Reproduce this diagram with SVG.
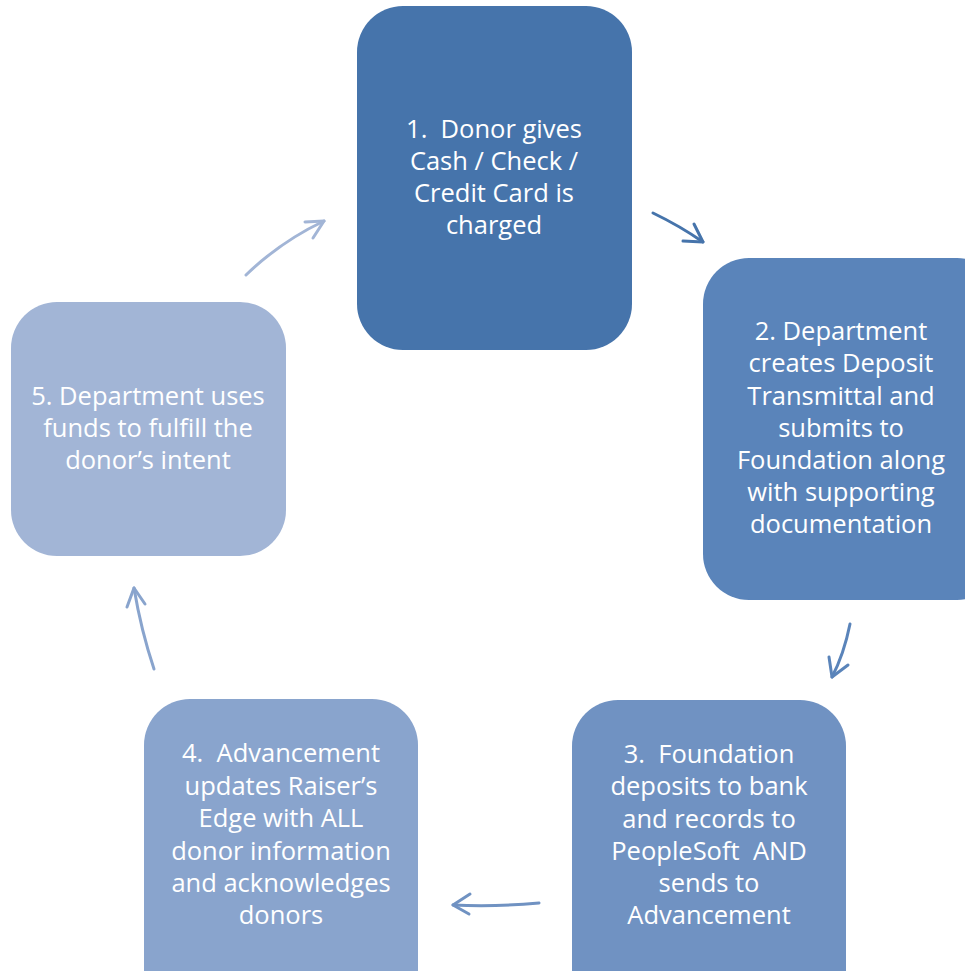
<svg xmlns="http://www.w3.org/2000/svg" width="965" height="971" viewBox="0 0 965 971">
  <style>
    .lbl { font-family: "Open Sans", Lato, "Liberation Sans", sans-serif; font-size: 25.5px; fill: #ffffff; text-anchor: middle; white-space: pre; }
    .con { fill: none; stroke-width: 3; stroke-linecap: round; stroke-linejoin: round; }
  </style>
  <rect width="965" height="971" fill="#ffffff"/>

  <g id="node1">
    <rect x="357" y="6" width="275" height="344" rx="46" fill="#4674AB"/>
    <text class="lbl" x="494" y="138">1.  Donor gives</text>
    <text class="lbl" x="494" y="170">Cash / Check /</text>
    <text class="lbl" x="494" y="202">Credit Card is</text>
    <text class="lbl" x="494" y="234">charged</text>
  </g>

  <g id="node2">
    <rect x="703" y="258" width="300" height="342" rx="46" fill="#5A84BA"/>
    <text class="lbl" x="841" y="340">2. Department</text>
    <text class="lbl" x="841" y="372">creates Deposit</text>
    <text class="lbl" x="841" y="405">Transmittal and</text>
    <text class="lbl" x="841" y="437">submits to</text>
    <text class="lbl" x="841" y="469">Foundation along</text>
    <text class="lbl" x="841" y="501">with supporting</text>
    <text class="lbl" x="841" y="533">documentation</text>
  </g>

  <g id="node3">
    <rect x="572" y="700" width="274" height="320" rx="46" fill="#7092C2"/>
    <text class="lbl" x="709" y="763">3.  Foundation</text>
    <text class="lbl" x="709" y="795">deposits to bank</text>
    <text class="lbl" x="709" y="828">and records to</text>
    <text class="lbl" x="709" y="860">PeopleSoft  AND</text>
    <text class="lbl" x="709" y="892">sends to</text>
    <text class="lbl" x="709" y="924">Advancement</text>
  </g>

  <g id="node4">
    <rect x="144" y="699" width="274" height="320" rx="46" fill="#89A4CD"/>
    <text class="lbl" x="281" y="762">4.  Advancement</text>
    <text class="lbl" x="281" y="795">updates Raiser’s</text>
    <text class="lbl" x="281" y="827">Edge with ALL</text>
    <text class="lbl" x="281" y="860">donor information</text>
    <text class="lbl" x="281" y="892">and acknowledges</text>
    <text class="lbl" x="281" y="924">donors</text>
  </g>

  <g id="node5">
    <rect x="11" y="302" width="275" height="254" rx="46" fill="#A2B5D6"/>
    <text class="lbl" x="148" y="405">5. Department uses</text>
    <text class="lbl" x="148" y="437">funds to fulfill the</text>
    <text class="lbl" x="148" y="469">donor’s intent</text>
  </g>

  <g id="connectors">
    <!-- 1 to 2 -->
    <g stroke="#4674AB" class="con">
      <path class="con" d="M653,213 Q680,226 703,242"/>
      <path class="con" d="M683,241 L703,242 L694,224"/>
    </g>
    <!-- 2 to 3 -->
    <g stroke="#5A84BA" class="con">
      <path class="con" d="M850,624 Q844,654 832,677"/>
      <path class="con" d="M829,657 L832,677 L848,665"/>
    </g>
    <!-- 3 to 4 -->
    <g stroke="#7092C2" class="con">
      <path class="con" d="M539,903 Q495,907 453,905"/>
      <path class="con" d="M470,894 L453,905 L469,914"/>
    </g>
    <!-- 4 to 5 -->
    <g stroke="#89A4CD" class="con">
      <path class="con" d="M154,669 Q141,630 134,588"/>
      <path class="con" d="M127,607 L134,588 L145,604"/>
    </g>
    <!-- 5 to 1 -->
    <g stroke="#A2B5D6" class="con">
      <path class="con" d="M246,275 Q280,242 324,221"/>
      <path class="con" d="M305,222 L324,221 L313,238"/>
    </g>
  </g>
</svg>
